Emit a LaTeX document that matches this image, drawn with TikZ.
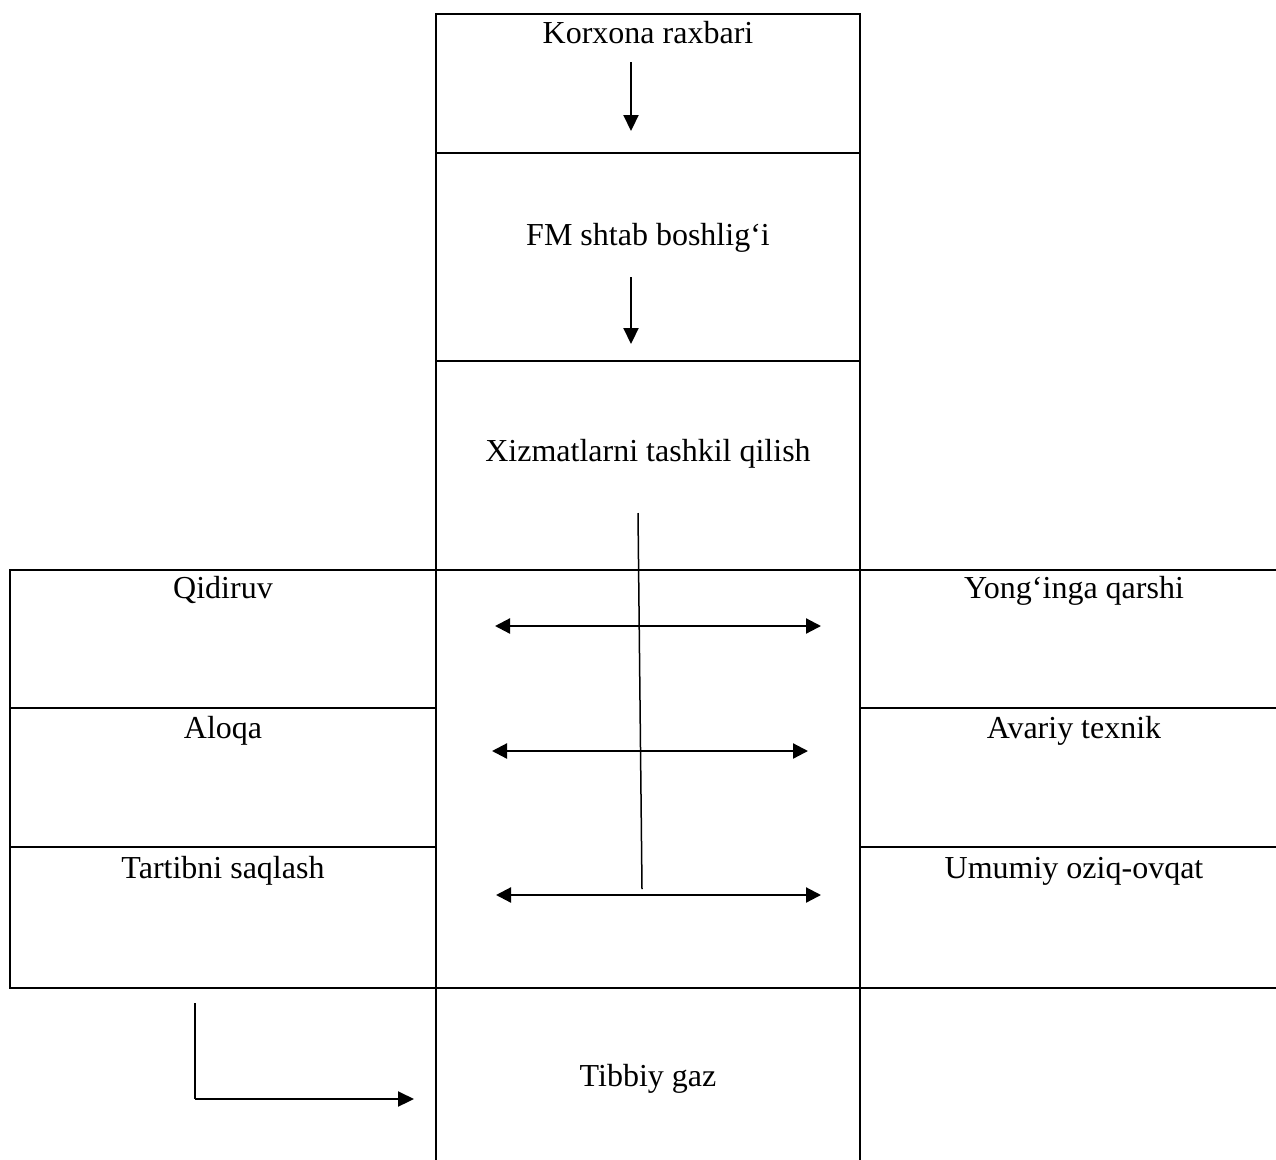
\documentclass[tikz,border=0pt]{standalone}
\usepackage{fontspec}
\setmainfont{Liberation Serif}
\usetikzlibrary{arrows.meta}
\begin{document}
\begin{tikzpicture}[x=1pt,y=-1pt,
  grid/.style={line width=2.6pt,line cap=rect},
  lbl/.style={anchor=base,inner sep=0pt,font=\fontsize{32}{38}\selectfont},
  arr/.style={line width=2.2pt,-{Triangle[length=16pt,width=15pt]}},
  darr/.style={line width=2.2pt,{Triangle[length=15pt,width=15pt]}-{Triangle[length=15pt,width=15pt]}},
  thin/.style={line width=1.5pt}]
\useasboundingbox (0,0) rectangle (1276,1159);
% grid
\draw[grid] (436,14) -- (860,14);
\draw[grid] (436,153) -- (860,153);
\draw[grid] (436,361) -- (860,361);
\draw[grid] (10,570) -- (1280,570);
\draw[grid] (10,708) -- (436,708);
\draw[grid] (860,708) -- (1280,708);
\draw[grid] (10,847) -- (436,847);
\draw[grid] (860,847) -- (1280,847);
\draw[grid] (10,988) -- (1280,988);
\draw[grid] (10,570) -- (10,988);
\draw[grid] (436,14) -- (436,1165);
\draw[grid] (860,14) -- (860,1165);
% texts
\node[lbl] (korx) at (648,43) {Korxona raxbari};
\node[lbl] (fm) at (648,245) {FM shtab boshlig‘i};
\node[lbl] (xiz) at (648,461) {Xizmatlarni tashkil qilish};
\node[lbl] (qid) at (223,598) {Qidiruv};
\node[lbl] (alo) at (223,738) {Aloqa};
\node[lbl] (tar) at (223,878) {Tartibni saqlash};
\node[lbl] (yon) at (1074,598) {Yong‘inga qarshi};
\node[lbl] (ava) at (1074,738) {Avariy texnik};
\node[lbl] (umu) at (1074,878) {Umumiy oziq-ovqat};
\node[lbl] (tib) at (648,1086) {Tibbiy gaz};
% arrow coordinates
\coordinate (a1s) at (631,62);
\coordinate (a1e) at (631,131);
\coordinate (a2s) at (631,277);
\coordinate (a2e) at (631,344);
\coordinate (vt) at (638,513);
\coordinate (vb) at (642,889);
\coordinate (h1l) at (495,626);
\coordinate (h1r) at (821,626);
\coordinate (h2l) at (492,751);
\coordinate (h2r) at (808,751);
\coordinate (h3l) at (496,895);
\coordinate (h3r) at (821,895);
\coordinate (lt) at (195,1003);
\coordinate (lc) at (195,1099);
\coordinate (le) at (414,1099);
% arrows
\draw[arr] (a1s) -- (a1e);
\draw[arr] (a2s) -- (a2e);
\draw[thin] (vt) -- (vb);
\draw[darr] (h1l) -- (h1r);
\draw[darr] (h2l) -- (h2r);
\draw[darr] (h3l) -- (h3r);
\draw[line width=2pt] (lt) -- (lc);
\draw[arr] (lc) -- (le);
\end{tikzpicture}
\end{document}
